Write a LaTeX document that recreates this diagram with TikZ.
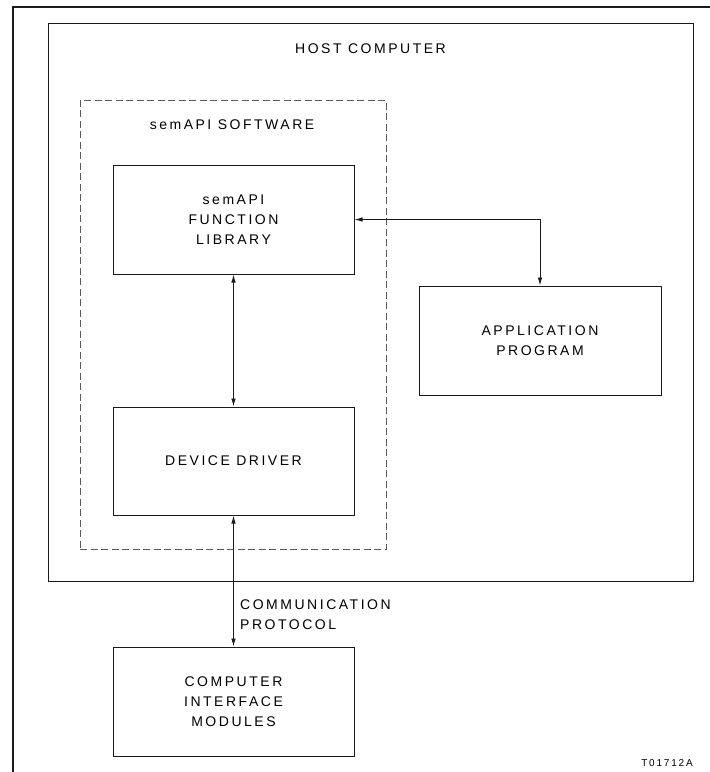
\documentclass[tikz,border=0pt]{standalone}
\usepackage{fontspec}
\setmainfont{Liberation Sans}[LetterSpace = 18]
\usepackage{xcolor}
\usepackage{tikz}
\usetikzlibrary{calc, positioning, arrows.meta}
\definecolor{ForegroundColour}{HTML}{1A1A1A}
\definecolor{DashColour}{HTML}{5A5A5A}

\tikzset{
    unitbox/.style = {draw = ForegroundColour, line width = 1pt, align = center, inner sep = 0pt,
                      minimum width = 241pt, minimum height = 109pt, font = \fontsize{14}{20}\selectfont},
    boxlabel/.style = {align = center, inner sep = 0pt, font = \fontsize{14}{20}\selectfont},
    link/.style = {draw = ForegroundColour, line width = 0.9pt, {Latex[length = 8pt, width = 4.5pt]}-{Latex[length = 8pt, width = 4.5pt]}}
}

\begin{document}
\begin{tikzpicture}[x = 1pt, y = -1pt, line join = miter, line cap = butt]

    \useasboundingbox (0, 0) rectangle (710, 772);

    % page frame
    \draw[ForegroundColour, line width = 1.2pt] (13, 772) -- (13, 7) -- (710, 7);

    % host and software outlines
    \node[unitbox, minimum width = 645pt, minimum height = 558pt] (host) at (370.5, 302) {};
    \node[boxlabel] (hostlabel) at (370.5, 49) {HOST COMPUTER};

    \node[draw = DashColour, line width = 1pt, dash pattern = on 7pt off 3.5pt, inner sep = 0pt,
          minimum width = 306pt, minimum height = 449pt] (software) at (233, 324.5) {};
    \node[boxlabel] (softwarelabel) at (232, 125) {semAPI SOFTWARE};

    % blocks
    \node[unitbox] (library) at (233.5, 219.5) {semAPI\\FUNCTION\\LIBRARY};
    \node[unitbox, minimum width = 242pt] (application) at (540, 340.5) {APPLICATION\\PROGRAM};
    \node[unitbox, minimum height = 108pt] (driver) at (233.5, 461) {DEVICE DRIVER};
    \node[unitbox] (modules) at (233.5, 701.5) {COMPUTER\\INTERFACE\\MODULES};

    % connectors
    \draw[link] (library.east) -| (application.north);
    \draw[link] (library.south) -- (driver.north);
    \draw[link] (driver.south) -- (modules.north);

    \node[boxlabel, align = left, anchor = west] (protocol) at (240, 614.5) {COMMUNICATION\\PROTOCOL};

    \node[inner sep = 0pt, font = \fontsize{10}{12}\selectfont] (figid) at (667, 763) {T01712A};

\end{tikzpicture}
\end{document}
